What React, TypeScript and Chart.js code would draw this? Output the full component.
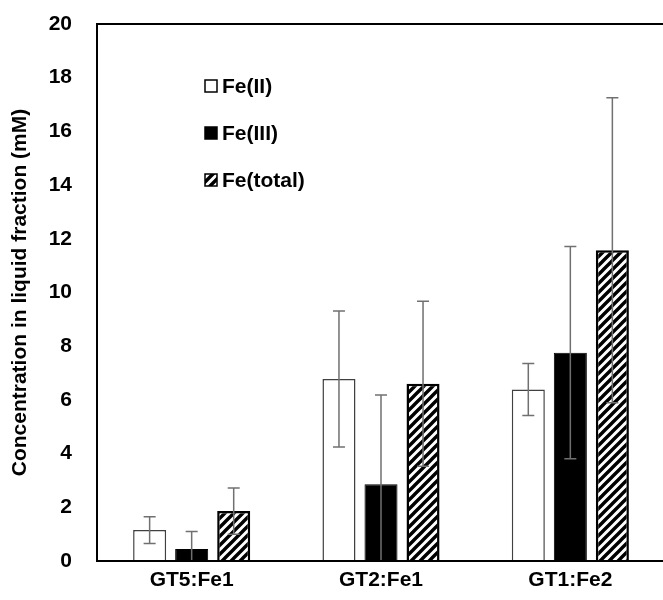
import React, { useEffect, useRef } from "react";
import { Chart, registerables } from "chart.js";

Chart.register(...registerables);

const categories = ["GT5:Fe1", "GT2:Fe1", "GT1:Fe2"];
const seriesNames = ["Fe(II)", "Fe(III)", "Fe(total)"];
const feII = [1.15, 6.78, 6.39];
const feIIErr = [0.5, 2.53, 0.97];
const feIII = [0.45, 2.86, 7.76];
const feIIIErr = [0.65, 3.32, 3.95];
const feTotal = [1.86, 6.6, 11.57];
const feTotalErr = [0.86, 3.07, 5.68];
const yTicks = [0, 2, 4, 6, 8, 10, 12, 14, 16, 18, 20];

const FONT = "'Liberation Sans', Arial, sans-serif";

function makeHatch(): CanvasPattern | string {
  const c = document.createElement("canvas");
  c.width = 9;
  c.height = 9;
  const g = c.getContext("2d");
  if (!g) return "#000";
  g.fillStyle = "#fff";
  g.fillRect(0, 0, 9, 9);
  g.strokeStyle = "#000";
  g.lineWidth = 3.4;
  g.beginPath();
  g.moveTo(-2, 11);
  g.lineTo(11, -2);
  g.moveTo(-7, 7);
  g.lineTo(7, -7);
  g.moveTo(2, 16);
  g.lineTo(16, 2);
  g.stroke();
  const p = g.createPattern(c, "repeat");
  return p || "#000";
}

export default function App() {
  const ref = useRef<HTMLCanvasElement | null>(null);

  useEffect(() => {
    if (!ref.current) return;
    const hatch = makeHatch();
    const errs = [feIIErr, feIIIErr, feTotalErr];

    const frame = {
      id: "frame",
      afterDatasetsDraw(chart: any) {
        const { ctx, chartArea } = chart;
        const { left, right, top, bottom } = chartArea;
        const ys = chart.scales.y;
        ctx.save();
        ctx.strokeStyle = "#707070";
        ctx.lineWidth = 1.5;
        chart.data.datasets.forEach((ds: any, i: number) => {
          const meta = chart.getDatasetMeta(i);
          meta.data.forEach((bar: any, j: number) => {
            const v = ds.data[j];
            const e = errs[i][j];
            const x = bar.x;
            const yt = ys.getPixelForValue(v + e);
            const lowVal = Math.max(0, v - e);
            const yb = ys.getPixelForValue(lowVal);
            ctx.beginPath();
            ctx.moveTo(x, yt);
            ctx.lineTo(x, yb);
            ctx.moveTo(x - 6, yt);
            ctx.lineTo(x + 6, yt);
            if (v - e > 0) {
              ctx.moveTo(x - 6, yb);
              ctx.lineTo(x + 6, yb);
            }
            ctx.stroke();
          });
        });
        ctx.restore();
        ctx.save();
        ctx.strokeStyle = "#000";
        ctx.lineWidth = 2;
        ctx.beginPath();
        ctx.moveTo(right + 2, top);
        ctx.lineTo(left, top);
        ctx.lineTo(left, bottom);
        ctx.lineTo(right + 2, bottom);
        ctx.stroke();
        ctx.restore();
        ctx.save();
        ctx.font = `bold 21px ${FONT}`;
        ctx.textBaseline = "middle";
        chart.data.datasets.forEach((ds: any, i: number) => {
          const cy = 86 + i * 47;
          const bx = 205;
          const s = 12;
          ctx.fillStyle = ds.backgroundColor;
          ctx.fillRect(bx, cy - s / 2, s, s);
          ctx.strokeStyle = "#000";
          ctx.lineWidth = 1.5;
          ctx.strokeRect(bx, cy - s / 2, s, s);
          ctx.fillStyle = "#000";
          ctx.fillText(ds.label, bx + s + 5, cy + 1);
        });
        ctx.restore();
      },
    };

    const chart = new Chart(ref.current, {
      type: "bar",
      data: {
        labels: categories,
        datasets: [
          {
            label: seriesNames[0],
            data: feII,
            backgroundColor: "#ffffff",
            borderColor: "#404040",
            borderWidth: 1.5,
          },
          {
            label: seriesNames[1],
            data: feIII,
            backgroundColor: "#000000",
            borderColor: "#000000",
            borderWidth: 1,
          },
          {
            label: seriesNames[2],
            data: feTotal,
            backgroundColor: hatch as any,
            borderColor: "#000000",
            borderWidth: 2.5,
          },
        ],
      },
      options: {
        responsive: false,
        animation: false,
        categoryPercentage: 0.666,
        barPercentage: 0.786,
        layout: { padding: { top: 24, left: 0, right: 1, bottom: 0 } },
        plugins: {
          legend: { display: false },
          tooltip: { enabled: false },
        },
        scales: {
          x: {
            grid: { display: false, drawTicks: false },
            border: { display: false },
            ticks: {
              color: "#000",
              padding: 7,
              font: { family: FONT, size: 21, weight: "bold" },
            },
            afterFit(scale: any) {
              scale.height = 39;
              scale.paddingLeft = 0;
              scale.paddingRight = 0;
            },
          },
          y: {
            min: 0,
            max: 20,
            grid: { display: false, drawTicks: false },
            border: { display: false },
            afterBuildTicks(scale: any) {
              scale.ticks = yTicks.map((v) => ({ value: v }));
            },
            ticks: {
              color: "#000",
              padding: 25,
              font: { family: FONT, size: 21, weight: "bold" },
            },
            title: {
              display: true,
              text: "Concentration in liquid fraction (mM)",
              color: "#000",
              padding: { top: 8, bottom: 0 },
              font: { family: FONT, size: 21, weight: "bold" },
            },
            afterFit(scale: any) {
              scale.width = 97;
              scale.paddingTop = 0;
              scale.paddingBottom = 0;
            },
          },
        },
      },
      plugins: [frame],
    });
    return () => chart.destroy();
  }, []);

  return (
    <div
      style={{
        position: "absolute",
        left: 0,
        top: 0,
        width: 663,
        height: 600,
        overflow: "hidden",
        background: "#fff",
      }}
    >
      <canvas ref={ref} width={666} height={600} style={{ display: "block" }} />
    </div>
  );
}
